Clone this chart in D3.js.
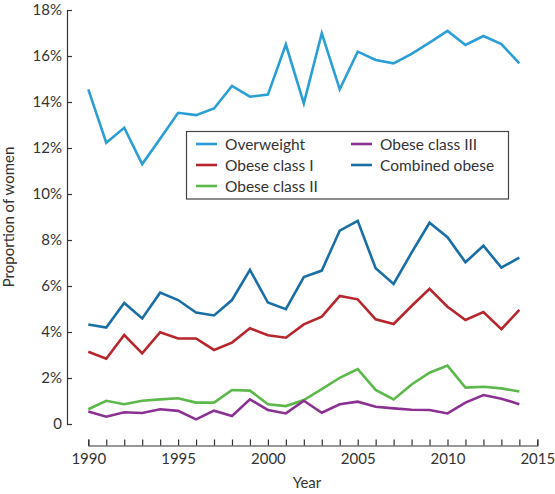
<!DOCTYPE html>
<html>
<head>
<meta charset="utf-8">
<script src="https://cdn.jsdelivr.net/npm/d3@7"></script>
<style>
  body { margin: 0; background: #fff; }
  text { font-family: Lato, "Open Sans", sans-serif; fill: #333; }
</style>
</head>
<body>
<svg id="chart" width="555" height="494"></svg>
<script>
const years = d3.range(1990, 2015)
const overweight = [14.55, 12.23, 12.88, 11.30, 12.40, 13.53, 13.43, 13.72, 14.70, 14.23, 14.32, 16.50, 13.94, 16.99, 14.55, 16.19, 15.83, 15.68, 16.09, 16.58, 17.09, 16.48, 16.87, 16.52, 15.68]
const obeseI = [3.14, 2.84, 3.87, 3.07, 3.99, 3.72, 3.72, 3.22, 3.54, 4.16, 3.86, 3.75, 4.33, 4.67, 5.57, 5.42, 4.55, 4.35, 5.13, 5.88, 5.10, 4.52, 4.87, 4.12, 4.96]
const obeseII = [0.64, 1.01, 0.86, 1.01, 1.07, 1.12, 0.93, 0.93, 1.48, 1.45, 0.86, 0.78, 1.04, 1.52, 2.01, 2.39, 1.48, 1.07, 1.72, 2.23, 2.54, 1.58, 1.62, 1.55, 1.41]
const obeseIII = [0.54, 0.32, 0.51, 0.48, 0.64, 0.57, 0.20, 0.58, 0.35, 1.07, 0.61, 0.46, 1.01, 0.49, 0.86, 0.97, 0.75, 0.68, 0.62, 0.61, 0.46, 0.93, 1.26, 1.10, 0.86]
const combined = [4.33, 4.19, 5.26, 4.59, 5.71, 5.39, 4.85, 4.72, 5.39, 6.70, 5.28, 4.99, 6.39, 6.67, 8.41, 8.83, 6.77, 6.09, 7.45, 8.75, 8.12, 7.03, 7.75, 6.80, 7.23]
const yTicks = [0, 2, 4, 6, 8, 10, 12, 14, 16, 18]
const xTickLabels = [1990, 1995, 2000, 2005, 2010, 2015]

const series = [
  {name: "Overweight", values: overweight, colour: "#2b9ed6"},
  {name: "Obese class I", values: obeseI, colour: "#b8262d"},
  {name: "Obese class II", values: obeseII, colour: "#5db84b"},
  {name: "Obese class III", values: obeseIII, colour: "#8a3191"},
  {name: "Combined obese", values: combined, colour: "#1a6ea6"}
]

const svg = d3.select("#chart")
const x = d3.scaleLinear().domain([1990, 2015]).range([88.3, 537.3])
const y = d3.scaleLinear().domain([0, 18]).range([424, 10])

// y axis, ticks point inward
const yAxis = svg.append("g")
  .attr("transform", "translate(67,0)")
  .call(d3.axisLeft(y).tickValues(yTicks).tickSizeInner(-5).tickSizeOuter(0).tickPadding(5)
    .tickFormat(d => d === 0 ? "0" : d + "%"))
yAxis.select(".domain").attr("stroke", "#333").attr("stroke-width", 1.2)
yAxis.selectAll(".tick line").attr("stroke", "#333").attr("stroke-width", 1.2)
yAxis.selectAll("text").style("font-size", "15px").attr("fill", "#333")

// x axis, separate baseline below the plot
const xAxis = svg.append("g")
  .attr("transform", "translate(0,445.5)")
  .call(d3.axisBottom(x).ticks(25).tickSizeInner(-6).tickSizeOuter(-6).tickPadding(8)
    .tickFormat(d => xTickLabels.includes(d) ? d : ""))
xAxis.select(".domain").attr("stroke", "#333").attr("stroke-width", 1.2)
xAxis.selectAll(".tick line").attr("stroke", "#333").attr("stroke-width", 1.2)
xAxis.selectAll("text").style("font-size", "15px").attr("fill", "#333")

svg.append("text")
  .attr("x", 307).attr("y", 488)
  .attr("text-anchor", "middle")
  .style("font-size", "15px")
  .text("Year")

svg.append("text")
  .attr("transform", "translate(14,217) rotate(-90)")
  .attr("text-anchor", "middle")
  .style("font-size", "15px")
  .text("Proportion of women")

const line = d3.line()
  .x((d, i) => x(years[i]))
  .y(d => y(d))

svg.append("g").selectAll("path")
  .data(series)
  .join("path")
  .attr("d", d => line(d.values))
  .attr("fill", "none")
  .attr("stroke", d => d.colour)
  .attr("stroke-width", 2.6)
  .attr("stroke-linejoin", "miter")

// legend
const legend = svg.append("g")
legend.append("rect")
  .attr("x", 186.5).attr("y", 131.5)
  .attr("width", 322).attr("height", 67.5)
  .attr("fill", "#fff")
  .attr("stroke", "#444")
  .attr("stroke-width", 1.2)

const legendPos = [
  [196, 144], [196, 165], [196, 186], [351, 144], [351, 165]
]
series.forEach((s, i) => {
  const [lx, ly] = legendPos[i]
  legend.append("line")
    .attr("x1", lx).attr("x2", lx + 21)
    .attr("y1", ly).attr("y2", ly)
    .attr("stroke", s.colour)
    .attr("stroke-width", 2.6)
  legend.append("text")
    .attr("x", lx + 29).attr("y", ly + 5.5)
    .style("font-size", "15.5px")
    .text(s.name)
})
</script>
</body>
</html>
